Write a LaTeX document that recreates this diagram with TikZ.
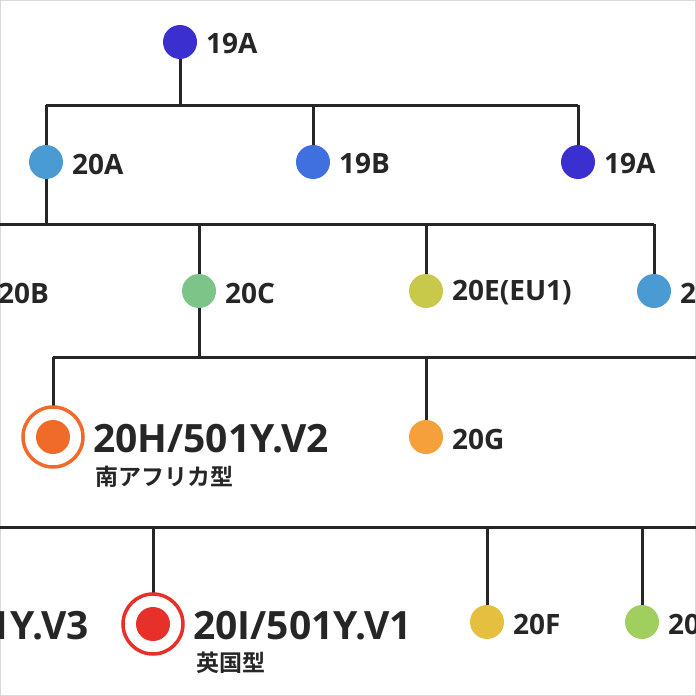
\documentclass[tikz,border=0pt]{standalone}
\usepackage{fontspec}
\setmainfont{Open Sans}
\newfontfamily\cjk{Noto Sans CJK JP}[BoldFont={Noto Sans CJK JP Bold}]
\begin{document}
\begin{tikzpicture}[x=1pt,y=-1pt,
 ln/.style={draw=black!85,line width=3pt},
 dot/.style={circle,minimum size=34pt,inner sep=0pt,fill=#1},
 lab/.style={anchor=west,font=\bfseries\fontsize{28}{30}\selectfont,text=black!85,inner sep=0pt},
 big/.style={anchor=west,font=\bfseries\fontsize{39}{42}\selectfont,text=black!85,inner sep=0pt},
 jp/.style={anchor=west,font=\cjk\bfseries\fontsize{23}{24}\selectfont,text=black!85,inner sep=0pt},
 ring/.style={circle,minimum size=60pt,inner sep=0pt,draw=#1,line width=3.5pt,fill=white}]
\definecolor{cA}{HTML}{3B2FD0}\definecolor{cB}{HTML}{4A9AD4}\definecolor{cC}{HTML}{4070E0}
\definecolor{cG}{HTML}{7CC487}\definecolor{cE}{HTML}{C8C84A}\definecolor{cO}{HTML}{F5A03A}
\definecolor{cH}{HTML}{F06A2A}\definecolor{cR}{HTML}{E8302A}\definecolor{cF}{HTML}{E5C040}
\definecolor{cL}{HTML}{A0CF60}
\useasboundingbox (0,0) rectangle (696,696);
\draw[black!15,line width=1pt] (0.5,0.5) rectangle (695.5,695.5);
\coordinate (h1) at (180,105); \coordinate (h1l) at (46,105); \coordinate (h1r) at (578,105);
\coordinate (h2) at (46,224); \coordinate (h2l) at (0,224); \coordinate (h2r) at (654,224);
\coordinate (h3) at (199,357); \coordinate (h3l) at (53,357); \coordinate (h3r) at (696,357);
\coordinate (h4l) at (0,527); \coordinate (h4r) at (696,527);
\draw[ln] (180,42) -- (h1); \draw[ln] (h1l) -- (h1r);
\draw[ln] (h1l) -- (46,162); \draw[ln] (313,105) -- (313,162); \draw[ln] (h1r) -- (578,162);
\draw[ln] (46,162) -- (h2); \draw[ln] (h2l) -- (h2r);
\draw[ln] (199,224) -- (199,291); \draw[ln] (426,224) -- (426,291); \draw[ln] (h2r) -- (654,291);
\draw[ln] (199,291) -- (h3); \draw[ln] (h3l) -- (h3r);
\draw[ln] (h3l) -- (53,437); \draw[ln] (426,357) -- (426,437);
\draw[ln] (h4l) -- (h4r);
\draw[ln] (153,527) -- (153,622); \draw[ln] (487,527) -- (487,622); \draw[ln] (642,527) -- (642,622);
\node[dot=cA] (n19a) at (180,42) {}; \node[lab] at (206,44) {19A};
\node[dot=cB] (n20a) at (46,162) {}; \node[lab] at (72,164) {20A};
\node[dot=cC] (n19b) at (313,162) {}; \node[lab] at (339,164) {19B};
\node[dot=cA] (n19a2) at (578,162) {}; \node[lab] at (604,164) {19A};
\node[lab] at (-2,293) {20B};
\node[dot=cG] (n20c) at (199,291) {}; \node[lab] at (225,293) {20C};
\node[dot=cE] (n20e) at (426,291) {}; \node[lab] at (452,293) {20E(EU1)};
\node[dot=cB] (n20x) at (654,291) {}; \node[lab] at (680,293) {2};
\node[ring=cH] (r20h) at (53,437) {}; \node[dot=cH] (n20h) at (53,437) {};
\node[big] at (93,439) {20H/501Y.V2}; \node[jp] at (95,477) {南アフリカ型};
\node[dot=cO] (n20g) at (426,437) {}; \node[lab] at (452,439) {20G};
\node[big] at (-12,626) {1Y.V3};
\node[ring=cR] (r20i) at (153,624) {}; \node[dot=cR] (n20i) at (153,624) {};
\node[big] at (193,626) {20I/501Y.V1}; \node[jp] at (196,663) {英国型};
\node[dot=cF] (n20f) at (487,622) {}; \node[lab] at (513,624) {20F};
\node[dot=cL] (n20l) at (642,622) {}; \node[lab] at (668,624) {20};
\end{tikzpicture}
\end{document}
